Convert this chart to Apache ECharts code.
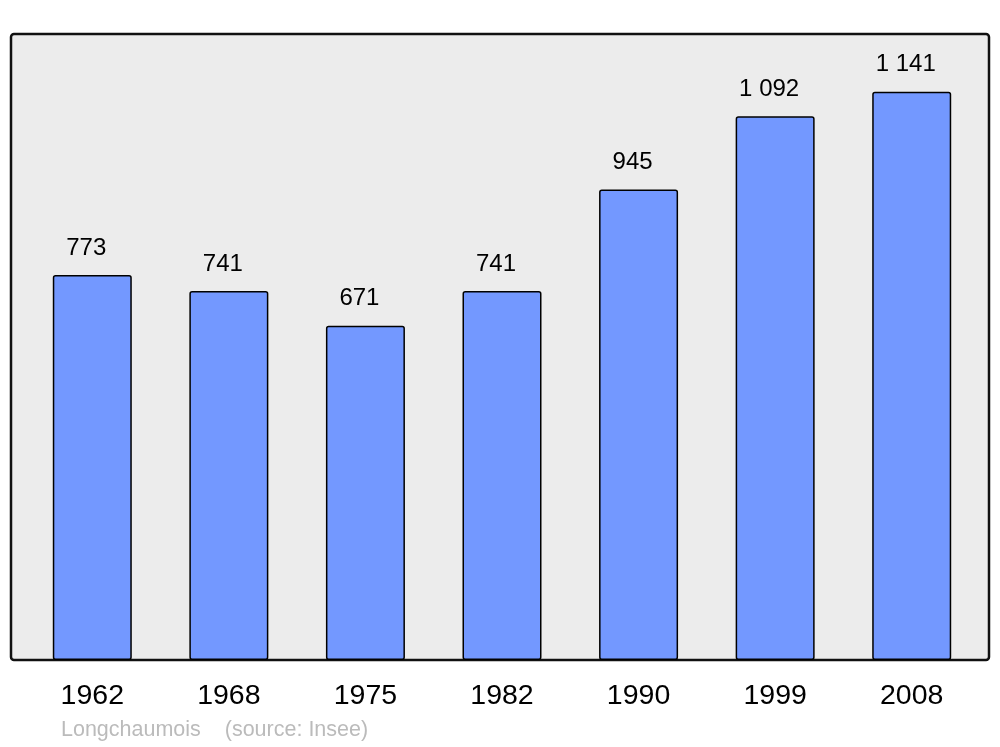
<!DOCTYPE html>
<html><head><meta charset="utf-8">
<script src="https://cdn.jsdelivr.net/npm/echarts@6/dist/echarts.min.js"></script>
<style>html,body{margin:0;padding:0;background:#fff}#c{width:1000px;height:747px}</style>
</head><body><div id="c"></div>
<script>
const years = ['1962','1968','1975','1982','1990','1999','2008'];
const population = [773, 741, 671, 741, 945, 1092, 1141];
const sourceText = 'Longchaumois    (source: Insee)';

function fmt(v){ return String(v).replace(/\B(?=(\d{3})+(?!\d))/g, ' '); }

const chart = echarts.init(document.getElementById('c'), null, {renderer:'canvas'});
chart.setOption({
  animation:false,
  backgroundColor:'#fff',
  graphic:[
    {type:'rect', z:-10, shape:{x:11, y:34, width:978, height:626, r:3},
     style:{fill:'#ececec', stroke:'#111', lineWidth:2.5}},
    {type:'text', left:61, top:719, style:{text:sourceText, fill:'#bbbbbb', font:'21.5px "Liberation Sans", Arial, sans-serif'}}
  ],
  grid:{left:24, right:20, top:34, bottom:87},
  xAxis:{type:'category', data:years, axisLine:{show:false}, axisTick:{show:false},
    axisLabel:{color:'#000', fontSize:28.5, fontFamily:'"Liberation Sans", Arial, sans-serif', margin:22}},
  yAxis:{type:'value', min:0, max:1257, show:false, splitLine:{show:false}},
  series:[{
    type:'bar', data:population, barWidth:79,
    itemStyle:{color:'#7398ff', borderColor:'#000', borderWidth:1.5, borderRadius:2},
    label:{show:true, position:'top', distance:15, offset:[-6,0], color:'#000', fontSize:24,
      fontFamily:'"Liberation Sans", Arial, sans-serif', formatter:p=>fmt(p.value)}
  }]
});
</script></body></html>
